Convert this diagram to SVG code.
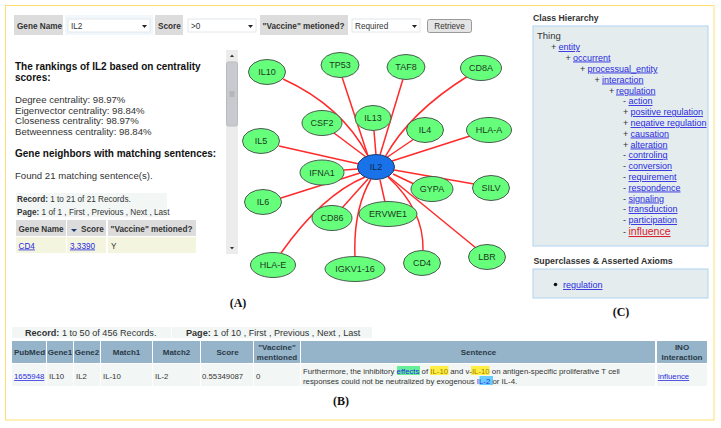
<svg xmlns="http://www.w3.org/2000/svg" width="721" height="428" viewBox="0 0 721 428">
<style>
text{font-family:"Liberation Sans",Arial,sans-serif;font-size:9px;fill:#333}
.b{font-weight:bold}
.f{font-size:8.2px}
.h{font-size:10px;font-weight:bold;fill:#111}
.t{font-size:9.6px;fill:#333}
.l{fill:#2a2ae0;text-decoration:underline}
.n{font-size:9px;text-anchor:middle;fill:#1c3a1c}
.c{text-anchor:middle}
.p{font-family:"Liberation Serif",serif;font-size:12px;font-weight:bold;fill:#111;text-anchor:middle}
.gray{fill:#dcdcdc}
.sel{fill:#fff;stroke:#e2e8ee}
.hd{fill:#95b4c9}
.rw{fill:#f2f7f5}
.ye{fill:#f4f5df}
.lb{fill:#e4ecee;stroke:#b0d4f4;stroke-width:1}
.g{fill:#66ff7c;stroke:#4a5a50;stroke-width:1}
.e{fill:none;stroke:#ff2a2a;stroke-width:1.5}
.th{font-size:8px;font-weight:bold;fill:#2a3a48}
.td{font-size:7.8px}
</style>
<rect x="5.500" y="5.500" width="708.500" height="414.500" fill="#fff" stroke="#ffdf70" stroke-width="1"/>

<g id="filters">
<rect class="gray" x="14" y="15" width="49" height="20"/>
<text class="b f" x="17" y="28.500">Gene Name</text>
<rect x="65" y="15" width="88" height="20" fill="#f2f7fb"/>
<rect class="sel" x="68" y="19" width="82" height="13"/>
<text class="f" x="71" y="28.500">IL2</text>
<path d="M142 25h5l-2.500 3z" fill="#222"/>
<rect class="gray" x="155" y="15" width="28" height="20"/>
<text class="b f" x="158" y="28.500">Score</text>
<rect class="sel" x="188" y="19" width="68" height="13"/>
<text class="f" x="191" y="28.500">&gt;0</text>
<path d="M248 25h5l-2.500 3z" fill="#222"/>
<rect class="gray" x="260" y="15" width="88" height="20"/>
<text class="b f" x="262.500" y="28.500">"Vaccine" metioned?</text>
<rect class="sel" x="352" y="19" width="68" height="13"/>
<text class="f" x="355" y="28.500">Required</text>
<path d="M412 25h5l-2.500 3z" fill="#222"/>
<rect x="427.500" y="19.500" width="44" height="13" rx="2" fill="#e4e4e4" stroke="#999"/>
<text class="c f" x="449.500" y="28.500">Retrieve</text>
</g>

<g id="rankings">
<text class="h" x="15" y="70">The rankings of IL2 based on centrality</text>
<text class="h" x="15" y="81">scores:</text>
<text class="t" x="15" y="102.500">Degree centrality: 98.97%</text>
<text class="t" x="15" y="113.500">Eigenvector centrality: 98.84%</text>
<text class="t" x="15" y="124">Closeness centrality: 98.97%</text>
<text class="t" x="15" y="135">Betweenness centrality: 98.84%</text>
<text class="h" x="15" y="157">Gene neighbors with matching sentences:</text>
<text class="t" x="15" y="178.500">Found 21 matching sentence(s).</text>
</g>

<g id="neighbor-table">
<rect class="rw" x="16" y="193" width="151" height="24"/>
<text class="f" x="17" y="202"><tspan class="b">Record:</tspan> 1 to 21 of 21 Records.</text>
<text class="f" x="17" y="215"><tspan class="b">Page:</tspan> 1 of 1 , First , Previous , Next , Last</text>
<rect class="gray" x="16" y="220" width="50" height="16"/>
<rect class="gray" x="67" y="220" width="39" height="16"/>
<rect class="gray" x="108" y="220" width="88" height="16"/>
<text class="b f" x="18.500" y="231.500">Gene Name</text>
<path d="M71 229h6l-3 3z" fill="#1f3a6e"/>
<text class="b f" x="81" y="231.500">Score</text>
<text class="b f" x="110.500" y="231.500">"Vaccine" metioned?</text>
<rect class="ye" x="16" y="237" width="50" height="16"/>
<rect class="ye" x="67" y="237" width="39" height="16"/>
<rect class="ye" x="108" y="237" width="88" height="16"/>
<text class="l f" x="18.500" y="248.500">CD4</text>
<text class="l f" x="70" y="248.500">3.3390</text>
<text class="f" x="111" y="248.500">Y</text>
</g>

<g id="scrollbar">
<rect x="226" y="50" width="12" height="204" fill="#ececec"/>
<path d="M230 57h4l-2-2.500zM230 247h4l-2 2.500z" fill="#333"/>
<rect x="226.500" y="62" width="11" height="64" rx="2" fill="#c9c9d0" stroke="#bbb"/>
<path d="M229.500 92h5M229.500 94h5M229.500 96h5" stroke="#888" stroke-width=".6"/>
</g>

<g id="connectors">
<path class="e" d="M283 79Q342 106 368 156"/>
<path class="e" d="M342 77L368 156"/>
<path class="e" d="M403 79L380 155"/>
<path class="e" d="M468 76Q410 112 385 157"/>
<path class="e" d="M334 133L366 157"/>
<path class="e" d="M374 131L376 155"/>
<path class="e" d="M414 139L386 158"/>
<path class="e" d="M470 136L392 161"/>
<path class="e" d="M279 146L359 164"/>
<path class="e" d="M344 170L358 169"/>
<path class="e" d="M394 170L474 184"/>
<path class="e" d="M393 174L414 184"/>
<path class="e" d="M281 198L360 173"/>
<path class="e" d="M342 208L368 179"/>
<path class="e" d="M380 180L385 202"/>
<path class="e" d="M281 253Q322 195 365 177"/>
<path class="e" d="M355 257Q353 210 371 179"/>
<path class="e" d="M423 250Q424 210 388 177"/>
<path class="e" d="M476 248L388 176"/>
</g>

<g id="IL10"><ellipse class="g" cx="267" cy="72" rx="18.500" ry="12.500"/><text class="n" x="267" y="75">IL10</text></g>
<g id="TP53"><ellipse class="g" cx="340" cy="65" rx="19" ry="12.500"/><text class="n" x="340" y="68">TP53</text></g>
<g id="TAF8"><ellipse class="g" cx="406" cy="67" rx="19" ry="12.500"/><text class="n" x="406" y="70">TAF8</text></g>
<g id="CD8A"><ellipse class="g" cx="481" cy="68" rx="20.500" ry="12.500"/><text class="n" x="481" y="71">CD8A</text></g>
<g id="CSF2"><ellipse class="g" cx="322" cy="123" rx="20" ry="12.500"/><text class="n" x="322" y="126">CSF2</text></g>
<g id="IL13"><ellipse class="g" cx="373" cy="118" rx="18" ry="12.500"/><text class="n" x="373" y="121">IL13</text></g>
<g id="IL4"><ellipse class="g" cx="425" cy="130" rx="18.500" ry="12.500"/><text class="n" x="425" y="133">IL4</text></g>
<g id="HLA-A"><ellipse class="g" cx="489" cy="130" rx="22.500" ry="12.500"/><text class="n" x="489" y="133">HLA-A</text></g>
<g id="IL5"><ellipse class="g" cx="261" cy="141" rx="18.500" ry="12.500"/><text class="n" x="261" y="144">IL5</text></g>
<g id="IFNA1"><ellipse class="g" cx="322" cy="172.500" rx="22" ry="12.500"/><text class="n" x="322" y="175.500">IFNA1</text></g>
<g id="GYPA"><ellipse class="g" cx="432" cy="189" rx="21" ry="12.500"/><text class="n" x="432" y="192">GYPA</text></g>
<g id="SILV"><ellipse class="g" cx="491" cy="188" rx="18.500" ry="12.500"/><text class="n" x="491" y="191">SILV</text></g>
<g id="IL6"><ellipse class="g" cx="263" cy="202" rx="18.500" ry="12.500"/><text class="n" x="263" y="205">IL6</text></g>
<g id="CD86"><ellipse class="g" cx="332" cy="218" rx="20" ry="12.500"/><text class="n" x="332" y="221">CD86</text></g>
<g id="ERVWE1"><ellipse class="g" cx="388" cy="214" rx="29" ry="12.500"/><text class="n" x="388" y="217">ERVWE1</text></g>
<g id="HLA-E"><ellipse class="g" cx="273" cy="265" rx="22.500" ry="12.500"/><text class="n" x="273" y="268">HLA-E</text></g>
<g id="IGKV1-16"><ellipse class="g" cx="355" cy="269" rx="30" ry="12.500"/><text class="n" x="355" y="272">IGKV1-16</text></g>
<g id="CD4"><ellipse class="g" cx="422" cy="263" rx="18.500" ry="12.500"/><text class="n" x="422" y="266">CD4</text></g>
<g id="LBR"><ellipse class="g" cx="487" cy="257" rx="18.500" ry="12.500"/><text class="n" x="487" y="260">LBR</text></g>
<g id="IL2"><ellipse cx="376" cy="167" rx="18.500" ry="12.500" fill="#1a72e8" stroke="#1c3c6a"/><text class="n" x="376" y="170" style="fill:#0c2a50">IL2</text></g>

<g id="class-hierarchy">
<text class="b" x="533" y="21" style="font-size:8.700px">Class Hierarchy</text>
<rect class="lb" x="533" y="26" width="175" height="220"/>
<text x="537" y="39" style="font-size:9.500px">Thing</text>
<text x="551" y="50">+</text><text class="l" x="558.500" y="50">entity</text>
<text x="565.500" y="60.500">+</text><text class="l" x="573" y="60.500">occurrent</text>
<text x="580" y="71.500">+</text><text class="l" x="587.500" y="71.500">processual_entity</text>
<text x="594.500" y="82.500">+</text><text class="l" x="602" y="82.500">interaction</text>
<text x="609" y="93.500">+</text><text class="l" x="616" y="93.500">regulation</text>
<text x="623" y="104">-</text><text class="l" x="628.500" y="104">action</text>
<text x="623" y="115">+</text><text class="l" x="630.500" y="115">positive regulation</text>
<text x="623" y="126">+</text><text class="l" x="630.500" y="126">negative regulation</text>
<text x="623" y="136.500">+</text><text class="l" x="630.500" y="136.500">causation</text>
<text x="623" y="147.500">+</text><text class="l" x="630.500" y="147.500">alteration</text>
<text x="623" y="158">-</text><text class="l" x="628.500" y="158">controling</text>
<text x="623" y="169">-</text><text class="l" x="628.500" y="169">conversion</text>
<text x="623" y="180">-</text><text class="l" x="628.500" y="180">requirement</text>
<text x="623" y="190.500">-</text><text class="l" x="628.500" y="190.500">respondence</text>
<text x="623" y="201.500">-</text><text class="l" x="628.500" y="201.500">signaling</text>
<text x="623" y="212">-</text><text class="l" x="628.500" y="212">transduction</text>
<text x="623" y="223">-</text><text class="l" x="628.500" y="223">participation</text>
<text x="623" y="235">-</text><text x="628.500" y="235" style="font-size:10.500px;fill:#d9202c;text-decoration:underline">influence</text>
</g>

<g id="superclasses">
<text class="b" x="533.500" y="264" style="font-size:8.800px">Superclasses &amp; Asserted Axioms</text>
<rect class="lb" x="533" y="269" width="175" height="29"/>
<circle cx="555.500" cy="284.500" r="1.800" fill="#111"/>
<text class="l" x="563" y="288">regulation</text>
</g>

<g id="records">
<rect class="rw" x="12" y="327" width="159" height="11"/>
<rect class="rw" x="172" y="327" width="200" height="11"/>
<text x="25" y="336" style="font-size:9.100px"><tspan class="b">Record:</tspan> 1 to 50 of 456 Records.</text>
<text x="186" y="336" style="font-size:9.100px"><tspan class="b">Page:</tspan> 1 of 10 , First , Previous , Next , Last</text>
<rect class="hd" x="12" y="341" width="34" height="22"/>
<rect class="hd" x="47" y="341" width="26" height="22"/>
<rect class="hd" x="74" y="341" width="26" height="22"/>
<rect class="hd" x="101" y="341" width="51" height="22"/>
<rect class="hd" x="153" y="341" width="47" height="22"/>
<rect class="hd" x="201" y="341" width="52" height="22"/>
<rect class="hd" x="254" y="341" width="46" height="22"/>
<rect class="hd" x="301" y="341" width="354" height="22"/>
<rect class="hd" x="657" y="341" width="50" height="22"/>
<text class="c th" x="29.500" y="355">PubMed</text>
<text class="c th" x="60" y="355">Gene1</text>
<text class="c th" x="87" y="355">Gene2</text>
<text class="c th" x="126.500" y="355">Match1</text>
<text class="c th" x="176.500" y="355">Match2</text>
<text class="c th" x="227.500" y="355">Score</text>
<text class="c th" x="277" y="350">"Vaccine"</text>
<text class="c th" x="277" y="360">mentioned</text>
<text class="c th" x="478.500" y="355">Sentence</text>
<text class="c th" x="682" y="350">INO</text>
<text class="c th" x="682" y="360">Interaction</text>
<rect class="rw" x="12" y="364" width="34" height="22"/>
<rect class="rw" x="47" y="364" width="26" height="22"/>
<rect class="rw" x="74" y="364" width="26" height="22"/>
<rect class="rw" x="101" y="364" width="51" height="22"/>
<rect class="rw" x="153" y="364" width="47" height="22"/>
<rect class="rw" x="201" y="364" width="52" height="22"/>
<rect class="rw" x="254" y="364" width="46" height="22"/>
<rect class="rw" x="301" y="364" width="354" height="22"/>
<rect class="rw" x="657" y="364" width="50" height="22"/>
<rect x="397" y="366" width="23" height="9" fill="#66ee99"/>
<rect x="430" y="366" width="18.500" height="9" fill="#ffee44"/>
<rect x="471" y="366" width="18.500" height="9" fill="#ffee44"/>
<rect x="479.500" y="376" width="13.500" height="9" fill="#66ccff"/>
<text class="l td" x="14" y="379">1655948</text>
<text class="td" x="49" y="379">IL10</text>
<text class="td" x="76" y="379">IL2</text>
<text class="td" x="103" y="379">IL-10</text>
<text class="td" x="155" y="379">IL-2</text>
<text class="td" x="202" y="379">0.55349087</text>
<text class="td" x="256" y="379">0</text>
<text class="td" x="303" y="373.500">Furthermore, the inhibitory <tspan style="fill:#2a2ae0">effects</tspan> of <tspan style="fill:#a08000">IL-10</tspan> and v-<tspan style="fill:#a08000">IL-10</tspan> on antigen-specific proliferative T cell</text>
<text class="td" x="303" y="383.500">responses could not be neutralized by exogenous <tspan style="fill:#2a2ae0">IL-2</tspan> or IL-4.</text>
<text class="l td" x="658" y="379">influence</text>
</g>

<g id="panel-labels">
<text class="p" x="238" y="307">(A)</text>
<text class="p" x="341" y="405">(B)</text>
<text class="p" x="621" y="316">(C)</text>
</g>
</svg>
